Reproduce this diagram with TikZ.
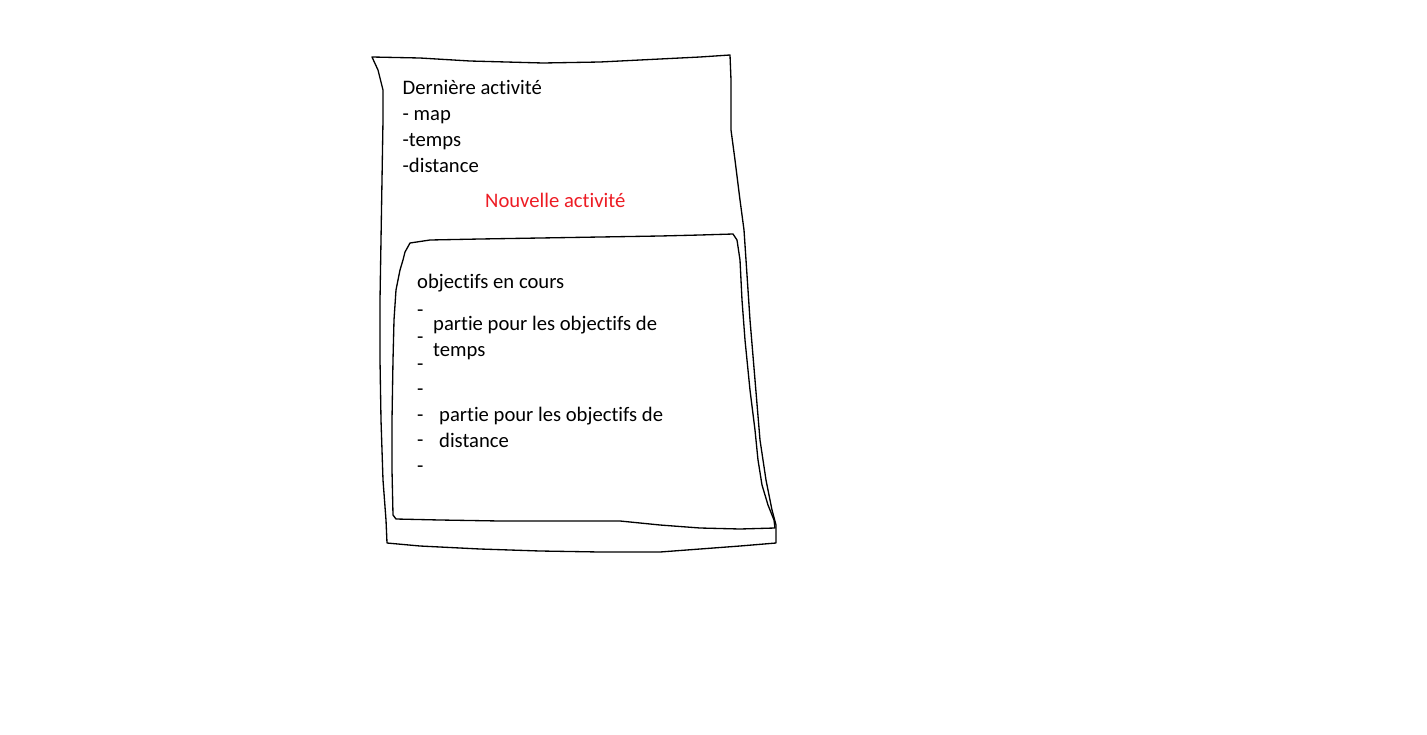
\documentclass[tikz,border=0pt]{standalone}
\usepackage{fontspec}
\setmainfont{Carlito}[Ligatures=NoCommon]
\usepackage{tikz}
\usetikzlibrary{positioning}
\definecolor{sketchred}{RGB}{237,28,36}
\tikzset{txt/.style={anchor=base west,inner sep=0pt}}

\begin{document}
\begin{tikzpicture}[x=0.02cm,y=-0.02cm,font=\fontsize{11.75}{14}\selectfont,
    line width=0.75pt,line join=round]
  \useasboundingbox (0,0) rectangle (1427,734);
  % outer sheet, hand drawn
  \draw (372,57) -- (420,58) -- (470,61) -- (543,63) -- (600,62) -- (660,59)
    -- (700,57) -- (730,55) -- (731,80) -- (731,130) -- (735,160) -- (740,200)
    -- (744,230) -- (746,260) -- (750,320) -- (755,380) -- (760,440)
    -- (766,480) -- (772,510) -- (776,525) -- (776,543) -- (740,546)
    -- (700,549) -- (660,552) -- (600,552) -- (540,551) -- (480,549)
    -- (420,546) -- (387,543) -- (386,520) -- (383,480) -- (381,420)
    -- (380,360) -- (380,300) -- (381,240) -- (382,180) -- (383,120)
    -- (383,90) -- (378,70) -- cycle;
  % inner frame (objectifs)
  \draw (410,243) -- (430,240) -- (480,239) -- (540,238) -- (600,237)
    -- (660,236) -- (700,235) -- (733,234) -- (737,240) -- (740,260)
    -- (742,300) -- (745,340) -- (750,390) -- (755,430) -- (758,460)
    -- (762,485) -- (768,505) -- (774,520) -- (775,528) -- (740,529)
    -- (700,528) -- (660,525) -- (620,521) -- (560,521) -- (500,521)
    -- (440,520) -- (396,519) -- (393,515) -- (392,470) -- (392,420)
    -- (393,360) -- (394,320) -- (396,290) -- (400,270) -- (403,260)
    -- (405,252) -- cycle;

  % last activity
  \node[txt] (last) at (402,94.5) {Dernière activité};
  \node[txt] (map) at (402,120.5) {- map};
  \node[txt] (time) at (402,146.5) {-temps};
  \node[txt] (dist) at (402,172.5) {-distance};
  \node[txt,text=sketchred] (new) at (484.5,207.5) {Nouvelle activité};

  % objectives
  \node[txt] (goals) at (416.5,288.5) {objectifs en cours};
  \foreach \yy [count=\i] in {316,343,370,395,421,446,472}
    \node[txt] (dash\i) at (416.5,\yy) {-};
  \node[txt] (tpart) at (432.5,330) {partie pour les objectifs de};
  \node[txt] (tword) at (432.5,356) {temps};
  \node[txt] (dpart) at (438.5,421) {partie pour les objectifs de};
  \node[txt] (dword) at (438.5,447) {distance};
\end{tikzpicture}
\end{document}
